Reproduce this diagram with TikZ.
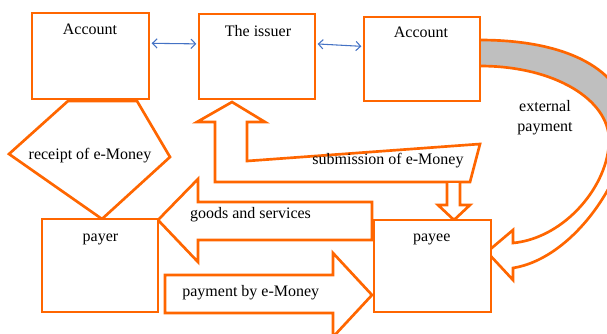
\documentclass[tikz,border=0pt]{standalone}
\usepackage{fontspec}
\setmainfont{Liberation Serif}
\usetikzlibrary{arrows.meta}
\definecolor{shapeorange}{RGB}{255,102,0}
\definecolor{linkblue}{RGB}{68,114,196}
\definecolor{backgrey}{RGB}{191,191,191}
\tikzset{
  box/.style={draw=shapeorange,line width=2pt,fill=white,inner sep=0pt},
  blockarrow/.style={draw=shapeorange,line width=2pt,fill=white,line join=miter},
  link/.style={draw=linkblue,line width=0.8pt,shorten <=1pt,shorten >=1pt,
    {Straight Barb[length=3.5pt,width=7pt]}-{Straight Barb[length=3.5pt,width=7pt]}},
  lbl/.style={font=\fontsize{12}{14}\selectfont,inner sep=0pt,anchor=base}
}
\begin{document}
\begin{tikzpicture}[x=0.75pt,y=-0.75pt]
  \useasboundingbox (0,0) rectangle (607,333);
  \clip (0,0) rectangle (607,333);

  \fill[backgrey] (480,40) .. controls (575,40) and (628,75) .. (628,125)
    -- (609,140) .. controls (609,100) and (555,66) .. (480,66) -- cycle;
  \draw[blockarrow,fill=none] (480,40) .. controls (575,40) and (628,75) .. (628,125)
    .. controls (628,175) and (575,258) .. (513,268) -- (513,280) -- (487,252)
    -- (513,230) -- (513,243) .. controls (565,238) and (609,185) .. (609,140)
    .. controls (609,100) and (555,66) .. (480,66);

  \node[box,minimum width=87.75pt,minimum height=64.5pt] (acc1) at (90.5,56) {};
  \node[box,minimum width=87pt,minimum height=63.75pt] (issuer) at (257,56.5) {};
  \node[box,minimum width=87pt,minimum height=63pt] (acc2) at (422,59) {};

  \draw[blockarrow] (68,101) -- (137,101) -- (170,157) -- (102,219) -- (9,154) -- cycle;
  \draw[blockarrow] (215,182) -- (215,122) -- (197,122) -- (232,102) -- (265,122)
    -- (247,122) -- (247,161) -- (480,144) -- (470,182) -- cycle;
  \draw[blockarrow] (447,183) -- (447,205) -- (438,205) -- (454,220) -- (470,205)
    -- (460,205) -- (460,183);
  \draw[blockarrow] (372,202) -- (198,202) -- (198,179) -- (158,220) -- (198,262)
    -- (198,240) -- (372,240) -- cycle;
  \draw[blockarrow] (165,275) -- (333,275) -- (333,253) -- (372,295) -- (333,337)
    -- (333,313) -- (165,313) -- cycle;

  \node[box,minimum width=87pt,minimum height=69.75pt] (payer) at (100,265.5) {};
  \node[box,minimum width=87.75pt,minimum height=69pt] (payee) at (432.5,266) {};

  \draw[link] (acc1.12) -- (issuer.168);
  \draw[link] (issuer.12) -- (acc2.168);

  \node[lbl] (acc1-t) at (90,34.7) {Account};
  \node[lbl] (issuer-t) at (258,36) {The issuer};
  \node[lbl] (acc2-t) at (421,37.7) {Account};
  \node[lbl] (payer-t) at (100.5,241) {payer};
  \node[lbl] (payee-t) at (431.7,241) {payee};
  \node[lbl] (receipt) at (90,159.3) {receipt of e-Money};
  \node[lbl] (submit) at (388,164) {submission of e-Money};
  \node[lbl] (goods) at (250.5,218.3) {goods and services};
  \node[lbl] (paybym) at (250.8,296.7) {payment by e-Money};
  \node[lbl] (extpay1) at (545,111.7) {external};
  \node[lbl] (extpay2) at (545,131.7) {payment};
\end{tikzpicture}
\end{document}
